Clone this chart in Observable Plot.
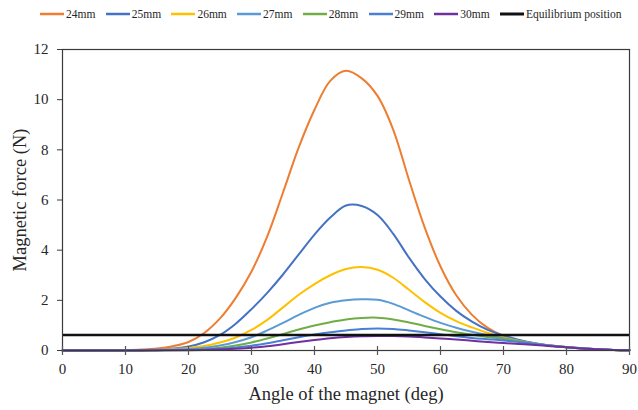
<!DOCTYPE html>
<html><head><meta charset="utf-8">
<script src="https://cdn.jsdelivr.net/npm/d3@7"></script>
<script src="https://cdn.jsdelivr.net/npm/@observablehq/plot@0.6"></script>
<style>
body{margin:0;background:#fff;font-family:"Liberation Serif",serif;}
#legend{position:relative;height:28px;width:638px;}
.item{position:absolute;top:6px;height:16px;display:flex;align-items:center;font-size:11.5px;color:#262626;white-space:nowrap;}
.item svg{margin-right:2px;}
#chart svg, #chart svg text{font-family:"Liberation Serif",serif !important;}
</style></head><body>
<div id="legend"></div><div id="chart"></div>
<script>
const angles = [0,2.5,5,7.5,10,12.5,15,17.5,20,22.5,25,27.5,30,32.5,35,37.5,40,42.5,45,47.5,50,52.5,55,57.5,60,62.5,65,67.5,70,72.5,75,77.5,80,82.5,85,87.5,90];
const f24 = [0,0,0,0.01,0.02,0.04,0.08,0.17,0.34,0.7,1.28,2.1,3.15,4.55,6.3,8.1,9.6,10.75,11.15,10.85,10.15,8.8,6.8,4.9,3.35,2.2,1.42,0.9,0.58,0.4,0.28,0.2,0.14,0.09,0.05,0.02,0.01];
const f25 = [0,0,0,0,0.01,0.02,0.04,0.08,0.16,0.33,0.62,1.07,1.65,2.3,3.03,3.83,4.62,5.3,5.78,5.76,5.4,4.65,3.7,2.85,2.15,1.58,1.15,0.82,0.6,0.42,0.29,0.2,0.14,0.09,0.05,0.02,0.01];
const f26 = [0,0,0,0,0.01,0.01,0.03,0.06,0.1,0.18,0.32,0.52,0.82,1.22,1.72,2.22,2.65,3.0,3.25,3.33,3.22,2.9,2.42,1.93,1.5,1.17,0.92,0.7,0.52,0.38,0.27,0.19,0.13,0.08,0.05,0.02,0.01];
const f27 = [0,0,0,0,0,0.01,0.02,0.04,0.06,0.11,0.2,0.34,0.53,0.8,1.1,1.42,1.7,1.9,2.0,2.04,2.02,1.86,1.6,1.34,1.1,0.91,0.75,0.61,0.49,0.37,0.27,0.19,0.13,0.08,0.05,0.02,0.01];
const f28 = [0,0,0,0,0,0,0.01,0.02,0.03,0.06,0.11,0.2,0.32,0.48,0.66,0.84,1.0,1.13,1.24,1.3,1.31,1.24,1.12,0.98,0.85,0.73,0.63,0.54,0.46,0.36,0.27,0.19,0.13,0.08,0.05,0.02,0.01];
const f29 = [0,0,0,0,0,0,0.01,0.01,0.02,0.04,0.07,0.12,0.19,0.29,0.41,0.53,0.64,0.73,0.8,0.86,0.88,0.86,0.8,0.73,0.65,0.57,0.5,0.45,0.4,0.33,0.26,0.19,0.13,0.08,0.05,0.02,0.01];
const f30 = [0,0,0,0,0,0,0,0.01,0.01,0.02,0.04,0.07,0.11,0.17,0.25,0.34,0.42,0.49,0.54,0.57,0.58,0.58,0.56,0.52,0.48,0.44,0.39,0.34,0.3,0.26,0.22,0.17,0.13,0.08,0.05,0.02,0.01];
const equilibrium = 0.62;
const names = ["24mm","25mm","26mm","27mm","28mm","29mm","30mm"];
const colors = ["#ED7D31","#4472C4","#FFC000","#5B9BD5","#70AD47","#4A7FD6","#7030A0"];
const eqName = "Equilibrium position";
const eqColor = "#111111";
const xTicks = [0,10,20,30,40,50,60,70,80,90];
const yTicks = [0,2,4,6,8,10,12];
const xTitle = "Angle of the magnet (deg)";
const yTitle = "Magnetic force (N)";

const seriesValues = [f24,f25,f26,f27,f28,f29,f30];
const rows = names.flatMap((n, s) => angles.map((a, i) => ({angle: a, force: seriesValues[s][i], name: n})));

// legend
const legend = document.getElementById("legend");
[...names, eqName].forEach((n, i) => {
  const c = i < names.length ? colors[i] : eqColor;
  const div = document.createElement("div");
  div.className = "item";
  div.style.left = (40 + i * 65.7) + "px";
  div.innerHTML = `<svg width="24" height="6"><line x1="0" x2="24" y1="3" y2="3" stroke="${c}" stroke-width="${i < names.length ? 2.5 : 3}"/></svg><span>${n}</span>`;
  legend.appendChild(div);
});

const chart = Plot.plot({
  width: 638, height: 382,
  marginTop: 21, marginBottom: 60, marginLeft: 62, marginRight: 9,
  style: {fontFamily: "'Liberation Serif', serif", fontSize: "15px", color: "#262626", background: "#fff"},
  x: {domain: [0, 90]},
  y: {domain: [0, 12]},
  color: {domain: names, range: colors},
  marks: [
    Plot.lineY(rows, {x: "angle", y: "force", stroke: "name", strokeWidth: 2, curve: "catmull-rom"}),
    Plot.ruleY([equilibrium], {stroke: eqColor, strokeWidth: 2.6}),
    Plot.frame({stroke: "#3a3a3a", strokeWidth: 1.2}),
    Plot.ruleX(xTicks, {x: d => d, y1: 0, y2: 0, insetTop: -4, insetBottom: -5, stroke: "#555", strokeWidth: 1.2}),
    Plot.axisX({ticks: xTicks, tickSize: 0, tickPadding: 13, label: null, fontSize: 15, tickFormat: d => String(d)}),
    Plot.axisY({ticks: yTicks, tickSize: 5, tickPadding: 9, label: null, fontSize: 15, stroke: "#3a3a3a", tickFormat: d => String(d)}),
    Plot.text([xTitle], {frameAnchor: "bottom", dy: 44, fontSize: 18.5, fill: "#262626", textAnchor: "middle", lineAnchor: "middle"}),
    Plot.text([yTitle], {frameAnchor: "left", dx: -42, rotate: -90, fontSize: 18.5, fill: "#262626", textAnchor: "middle", lineAnchor: "middle"})
  ]
});
document.getElementById("chart").appendChild(chart);
</script>
</body></html>
